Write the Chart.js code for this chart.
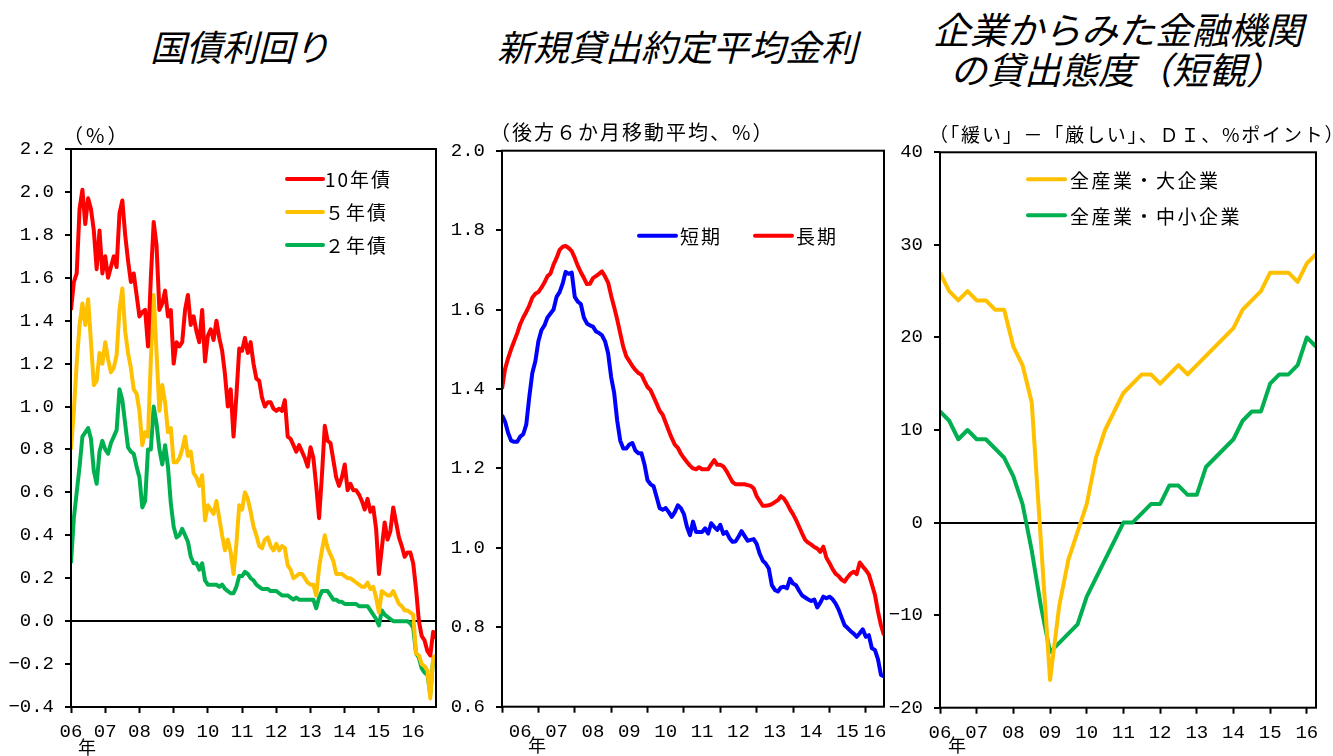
<!DOCTYPE html>
<html lang="ja">
<head>
<meta charset="utf-8">
<script src="https://cdn.jsdelivr.net/npm/chart.js@4.4.1/dist/chart.umd.min.js"></script>
<style>
  html, body { margin: 0; padding: 0; background: #fff; }
  body { width: 1333px; height: 756px; position: relative; overflow: hidden; }
  .title {
    position: absolute; white-space: nowrap; color: #000;
    font-family: "Noto Sans CJK JP", sans-serif; font-style: italic;
    font-size: 36px; line-height: 36px;
  }
  canvas { position: absolute; }
</style>
</head>
<body>
<div class="title" style="left:40px;width:400px;text-align:center;top:27px">国債利回り</div>
<div class="title" style="left:477px;width:400px;text-align:center;top:27px">新規貸出約定平均金利</div>
<div class="title" style="left:933px;top:10px;font-size:37px">企業からみた金融機関</div>
<div class="title" style="left:950px;top:50px;font-size:37px">の貸出態度（短観）</div>

<canvas id="bond" width="445" height="646" style="left:0;top:110px"></canvas>
<canvas id="loan" width="460" height="646" style="left:445px;top:110px"></canvas>
<canvas id="tankan" width="448" height="646" style="left:885px;top:110px"></canvas>

<script>
// ---- axis labels ----
const yearLabels = ['06', '07', '08', '09', '10', '11', '12', '13', '14', '15', '16'];

// ---- JGB yields, monthly, Jan 2006 - Sep 2016 (%) ----
const jgb10 = [
  1.45, 1.58, 1.62, 1.92, 2.01, 1.85, 1.97, 1.92, 1.82, 1.64, 1.82, 1.62,
  1.70, 1.60, 1.65, 1.70, 1.65, 1.90, 1.96, 1.80, 1.68, 1.58, 1.62, 1.52,
  1.42, 1.44, 1.45, 1.28, 1.60, 1.86, 1.75, 1.45, 1.48, 1.54, 1.42, 1.45,
  1.20, 1.30, 1.28, 1.30, 1.45, 1.52, 1.38, 1.42, 1.35, 1.30, 1.45, 1.21,
  1.33, 1.36, 1.31, 1.40, 1.32, 1.26, 1.15, 1.00, 1.08, 0.86, 1.05, 1.27,
  1.26, 1.32, 1.25, 1.30, 1.20, 1.13, 1.12, 1.04, 1.00, 1.02, 1.02, 0.99,
  0.98, 0.99, 0.98, 1.03, 0.86, 0.85, 0.82, 0.79, 0.82, 0.79, 0.76, 0.72,
  0.81, 0.76, 0.63, 0.48, 0.68, 0.91, 0.84, 0.83, 0.75, 0.67, 0.63, 0.67,
  0.73, 0.61, 0.64, 0.61, 0.61, 0.59, 0.56, 0.52, 0.57, 0.51, 0.53, 0.43,
  0.22, 0.34, 0.46, 0.38, 0.42, 0.53, 0.46, 0.39, 0.35, 0.30, 0.32, 0.32,
  0.27, 0.15, 0.00, -0.07, -0.09, -0.14, -0.16, -0.05, -0.08
];
const jgb5 = [
  0.80, 0.98, 1.20, 1.38, 1.48, 1.38, 1.50, 1.30, 1.10, 1.12, 1.25, 1.20,
  1.30, 1.22, 1.16, 1.18, 1.24, 1.45, 1.55, 1.35, 1.25, 1.18, 1.08, 1.06,
  0.98, 0.82, 0.88, 0.86, 1.22, 1.52, 1.25, 0.98, 1.10, 1.02, 0.88, 0.90,
  0.74, 0.74, 0.76, 0.80, 0.86, 0.77, 0.79, 0.69, 0.67, 0.63, 0.68, 0.47,
  0.54, 0.52, 0.50, 0.56, 0.48, 0.40, 0.33, 0.38, 0.32, 0.22, 0.36, 0.54,
  0.52, 0.60, 0.57, 0.51, 0.44, 0.40, 0.35, 0.34, 0.38, 0.39, 0.35, 0.33,
  0.36, 0.33, 0.35, 0.34, 0.26, 0.24, 0.20, 0.21, 0.22, 0.22, 0.20, 0.18,
  0.17, 0.17, 0.12, 0.25, 0.33, 0.40, 0.34, 0.31, 0.28, 0.22, 0.22, 0.22,
  0.21, 0.20, 0.20, 0.19, 0.18, 0.17, 0.16, 0.16, 0.18, 0.15, 0.16, 0.11,
  0.04, 0.14, 0.13, 0.12, 0.12, 0.14, 0.11, 0.08, 0.07, 0.05, 0.05, 0.04,
  0.03, -0.15, -0.16, -0.20, -0.21, -0.23, -0.36, -0.17, -0.16
];
const jgb2 = [
  0.27, 0.48, 0.60, 0.72, 0.86, 0.88, 0.90, 0.85, 0.70, 0.64, 0.79, 0.84,
  0.80, 0.78, 0.83, 0.86, 0.89, 1.08, 1.03, 0.92, 0.81, 0.79, 0.78, 0.72,
  0.67, 0.53, 0.56, 0.80, 0.80, 1.00, 0.92, 0.80, 0.73, 0.82, 0.72, 0.55,
  0.44, 0.39, 0.40, 0.43, 0.40, 0.37, 0.30, 0.27, 0.27, 0.24, 0.27, 0.19,
  0.17, 0.17, 0.17, 0.17, 0.16, 0.17, 0.15, 0.14, 0.13, 0.13, 0.16, 0.21,
  0.21, 0.23, 0.22, 0.20, 0.19, 0.17, 0.16, 0.15, 0.15, 0.15, 0.14, 0.14,
  0.14, 0.13, 0.12, 0.12, 0.12, 0.11, 0.10, 0.11, 0.10, 0.10, 0.10, 0.10,
  0.10, 0.10, 0.06, 0.11, 0.14, 0.14, 0.14, 0.12, 0.10, 0.10, 0.09, 0.09,
  0.08, 0.08, 0.08, 0.08, 0.08, 0.07, 0.07, 0.07, 0.07, 0.05, 0.03, 0.01,
  -0.02, 0.05, 0.03, 0.02, 0.01, 0.00, 0.00, 0.00, 0.00, 0.00, 0.00, -0.01,
  -0.03, -0.15, -0.17, -0.22, -0.24, -0.25, -0.34, -0.18, -0.18
];

// ---- average contracted interest rates on new loans, 6-month backward MA, Jan 2006 - Jul 2016 (%) ----
const loanShort = [
  1.334, 1.318, 1.290, 1.270, 1.267, 1.267, 1.280, 1.286, 1.310, 1.380, 1.440, 1.470,
  1.520, 1.548, 1.560, 1.580, 1.590, 1.600, 1.632, 1.644, 1.665, 1.695, 1.690, 1.693,
  1.632, 1.620, 1.614, 1.580, 1.565, 1.560, 1.557, 1.545, 1.541, 1.535, 1.520, 1.490,
  1.430, 1.390, 1.320, 1.270, 1.250, 1.250, 1.260, 1.264, 1.245, 1.238, 1.238, 1.210,
  1.170, 1.160, 1.155, 1.128, 1.100, 1.096, 1.100, 1.090, 1.078, 1.090, 1.107, 1.100,
  1.085, 1.053, 1.032, 1.066, 1.040, 1.040, 1.040, 1.049, 1.036, 1.062, 1.053, 1.045,
  1.058, 1.035, 1.040, 1.025, 1.015, 1.016, 1.028, 1.042, 1.030, 1.018, 1.020, 1.022,
  1.010, 0.985, 0.968, 0.960, 0.948, 0.906, 0.894, 0.890, 0.900, 0.902, 0.898, 0.922,
  0.910, 0.906, 0.892, 0.880, 0.875, 0.870, 0.866, 0.870, 0.850, 0.862, 0.877, 0.873,
  0.877, 0.871, 0.860, 0.845, 0.825, 0.805, 0.798, 0.790, 0.784, 0.776, 0.785, 0.795,
  0.776, 0.780, 0.747, 0.743, 0.720, 0.680, 0.676
];
const loanLong = [
  1.400, 1.450, 1.477, 1.500, 1.520, 1.540, 1.563, 1.580, 1.594, 1.610, 1.630, 1.640,
  1.644, 1.655, 1.668, 1.684, 1.691, 1.713, 1.730, 1.750, 1.758, 1.760, 1.755, 1.747,
  1.730, 1.710, 1.694, 1.680, 1.664, 1.665, 1.679, 1.684, 1.690, 1.696, 1.683, 1.668,
  1.635, 1.606, 1.575, 1.540, 1.506, 1.482, 1.470, 1.458, 1.448, 1.440, 1.436, 1.420,
  1.405, 1.397, 1.380, 1.363, 1.345, 1.335, 1.315, 1.295, 1.276, 1.260, 1.252, 1.237,
  1.226, 1.216, 1.207, 1.200, 1.198, 1.203, 1.198, 1.198, 1.198, 1.210, 1.221, 1.209,
  1.209, 1.205, 1.194, 1.180, 1.166, 1.160, 1.160, 1.160, 1.160, 1.158, 1.156, 1.150,
  1.130, 1.118, 1.106, 1.106, 1.107, 1.110, 1.115, 1.120, 1.130, 1.124, 1.112, 1.097,
  1.085, 1.070, 1.053, 1.036, 1.020, 1.013, 1.008, 1.002, 0.998, 0.990, 1.003, 0.975,
  0.962, 0.947, 0.935, 0.929, 0.920, 0.915, 0.926, 0.935, 0.940, 0.934, 0.963, 0.953,
  0.944, 0.933, 0.908, 0.882, 0.840, 0.805, 0.780
];

// ---- Tankan lending attitude DI, quarterly, Mar 2006 - Jun 2016 (% points) ----
const diLarge = [
  27, 25, 24, 25, 24, 24, 23, 23, 19, 17, 13, -2,
  -17, -9, -4, -1, 2, 7, 10, 12, 14, 15, 16, 16,
  15, 16, 17, 16, 17, 18, 19, 20, 21, 23, 24, 25,
  27, 27, 27, 26, 28, 29
];
const diSmall = [
  12, 11, 9, 10, 9, 9, 8, 7, 5, 2, -3, -9,
  -14, -13, -12, -11, -8, -6, -4, -2, 0, 0, 1, 2,
  2, 4, 4, 3, 3, 6, 7, 8, 9, 11, 12, 12,
  15, 16, 16, 17, 20, 19
];

// ---- shared styling ----
const BLACK = '#000';
const TICK_FONT = { family: 'Liberation Mono', size: 19 };
const CJK = '"Noto Sans CJK JP"';
const minus = s => s.replace('-', '\u2212');
const asPoints = arr => arr.map((v, i) => ({ x: i, y: v }));

// frame, unit caption, year mark and in-plot legend
const panelDecor = {
  id: 'panelDecor',
  afterDraw(chart, args, o) {
    const { ctx, chartArea: a } = chart;
    ctx.save();
    ctx.strokeStyle = BLACK;
    ctx.lineWidth = 2;
    ctx.strokeRect(a.left, a.top, a.right - a.left, a.bottom - a.top);

    ctx.fillStyle = BLACK;
    ctx.textBaseline = 'middle';
    ctx.textAlign = 'left';
    ctx.font = o.captionFont;
    ctx.letterSpacing = o.captionSpacing || '0px';
    ctx.fillText(o.caption, a.left + o.captionAt[0], a.top + o.captionAt[1]);
    ctx.letterSpacing = '0px';

    ctx.font = '18px ' + CJK;
    ctx.textAlign = 'center';
    ctx.fillText('年', a.left + o.yearAt[0], a.bottom + o.yearAt[1]);

    const L = o.legend;
    chart.data.datasets.forEach((ds, i) => {
      const x = a.left + L.x + i * (L.dx || 0);
      const y = a.top + L.y + i * (L.dy || 0);
      ctx.strokeStyle = ds.borderColor;
      ctx.lineWidth = 4;
      ctx.lineCap = 'round';
      ctx.beginPath();
      ctx.moveTo(x, y);
      ctx.lineTo(x + L.len, y);
      ctx.stroke();
      ctx.font = '19px ' + CJK;
      ctx.textAlign = 'left';
      ctx.letterSpacing = L.spacing || '0px';
      ctx.fillText(ds.label, x + L.len + L.gap, y + 1);
      ctx.letterSpacing = '0px';
    });
    ctx.restore();
  }
};

function lineSet(label, data, color, width) {
  return {
    label, data: asPoints(data), borderColor: color, backgroundColor: color,
    borderWidth: width, pointRadius: 0, tension: 0, fill: false,
    borderJoinStyle: 'round'
  };
}

function yAxis(min, max, step, digits, width) {
  return {
    type: 'linear', min, max,
    ticks: {
      stepSize: step, color: BLACK, font: TICK_FONT, padding: 11,
      callback: v => minus(Number(v).toFixed(digits))
    },
    grid: {
      drawOnChartArea: true,
      color: c => (c.tick && Math.abs(c.tick.value) < 1e-9) ? BLACK : 'rgba(0,0,0,0)',
      lineWidth: 2, tickLength: 6, tickColor: BLACK, tickWidth: 2
    },
    border: { display: false },
    afterFit: s => { s.width = width; }
  };
}

function xAxis(max, tickValues, labelFor, markFor, height) {
  return {
    type: 'linear', min: 0, max,
    afterBuildTicks: s => { s.ticks = tickValues.map(v => ({ value: v })); },
    ticks: {
      autoSkip: false, maxRotation: 0, minRotation: 0, color: BLACK,
      font: TICK_FONT, padding: 8,
      callback: v => labelFor(v)
    },
    grid: {
      drawOnChartArea: false, tickLength: 6, tickWidth: 2,
      tickColor: c => (c.tick && markFor(c.tick.value)) ? BLACK : 'rgba(0,0,0,0)'
    },
    border: { display: false },
    afterFit: s => { s.height = height; }
  };
}

function baseOptions(layout, scales, decor) {
  return {
    responsive: false, animation: false, events: [],
    layout: { padding: layout },
    scales,
    plugins: { legend: { display: false }, tooltip: { enabled: false }, panelDecor: decor }
  };
}

// ---- panel 1: JGB yields ----
const bondTicks = yearLabels.map((_, i) => i * 12);
new Chart(document.getElementById('bond'), {
  type: 'line',
  data: {
    datasets: [
      lineSet('10年債', jgb10, '#FF0000', 4),
      lineSet('５年債', jgb5, '#FFC000', 4),
      lineSet('２年債', jgb2, '#00B050', 4)
    ]
  },
  options: baseOptions(
    { left: 0, top: 39, right: 9, bottom: 0 },
    {
      x: xAxis(128, bondTicks, v => yearLabels[v / 12], () => true, 49),
      y: yAxis(-0.4, 2.2, 0.2, 1, 71)
    },
    {
      caption: '（%）', captionFont: '20px ' + CJK, captionSpacing: '3px', captionAt: [-8, -14],
      yearAt: [16, 40],
      legend: { x: 216, y: 30, dy: 33, len: 36, gap: 2, spacing: '2px' }
    }
  ),
  plugins: [panelDecor]
});

// ---- panel 2: new loan rates (labels sit between yearly tick marks) ----
const loanEnd = loanShort.length - 1;
const loanMarks = yearLabels.map((_, i) => i * 12);
const loanLabelPos = loanMarks.map(m => (m + Math.min(m + 12, loanEnd)) / 2);
const loanTicks = loanMarks.concat(loanLabelPos).sort((a, b) => a - b);
new Chart(document.getElementById('loan'), {
  type: 'line',
  data: {
    datasets: [
      lineSet('短期', loanShort, '#0000FF', 4),
      lineSet('長期', loanLong, '#FF0000', 4)
    ]
  },
  options: baseOptions(
    { left: 0, top: 40.7, right: 21, bottom: 0 },
    {
      x: xAxis(loanEnd, loanTicks,
        v => (v % 12 === 0 ? '' : yearLabels[Math.floor(v / 12)]),
        v => v % 12 === 0, 49.3),
      y: yAxis(0.6, 2.0, 0.2, 1, 57)
    },
    {
      caption: '（後方６か月移動平均、%）', captionFont: '20px ' + CJK, captionSpacing: '2px', captionAt: [-12, -18],
      yearAt: [35, 38],
      legend: { x: 137, y: 85, dx: 116, len: 37, gap: 4, spacing: '2px' }
    }
  ),
  plugins: [panelDecor]
});

// ---- panel 3: Tankan lending attitude DI ----
const tankanTicks = yearLabels.map((_, i) => i * 4);
new Chart(document.getElementById('tankan'), {
  type: 'line',
  data: {
    datasets: [
      lineSet('全産業・大企業', diLarge, '#FFC000', 4),
      lineSet('全産業・中小企業', diSmall, '#00B050', 4)
    ]
  },
  options: baseOptions(
    { left: 0, top: 42.3, right: 17, bottom: 0 },
    {
      x: xAxis(diLarge.length - 1, tankanTicks, v => yearLabels[v / 4], () => true, 48.3),
      y: yAxis(-20, 40, 10, 0, 55)
    },
    {
      caption: '（「緩い」－「厳しい」、ＤＩ、%ポイント）', captionFont: '19px ' + CJK, captionSpacing: '1.8px', captionAt: [-11, -18],
      yearAt: [17, 37],
      legend: { x: 88, y: 27, dy: 36, len: 37, gap: 5, spacing: '2.5px' }
    }
  ),
  plugins: [panelDecor]
});
</script>
</body>
</html>
